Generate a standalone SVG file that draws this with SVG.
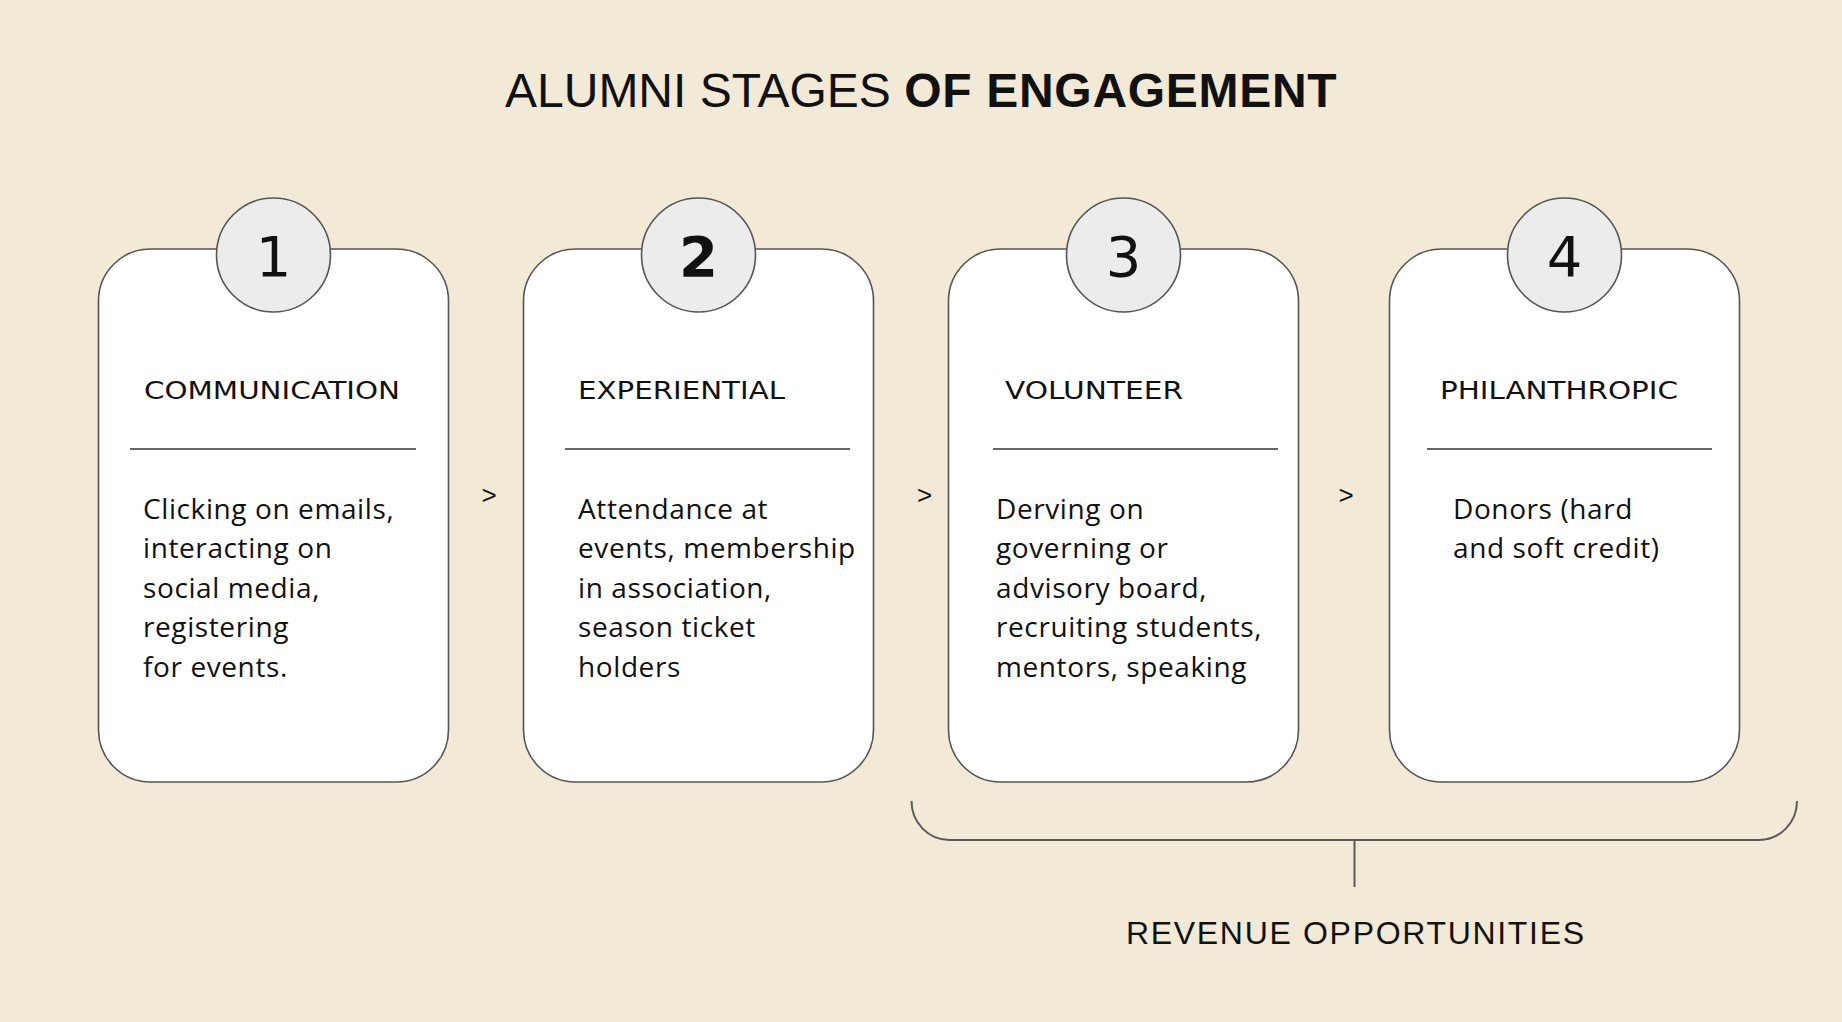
<svg xmlns="http://www.w3.org/2000/svg" width="1842" height="1022" viewBox="0 0 1842 1022">
  <style>
    .card { fill: #ffffff; stroke: #555555; stroke-width: 1.6; }
    .badge { fill: #ececec; stroke: #555555; stroke-width: 1.6; }
    .num { font-family: "DejaVu Sans", "Liberation Sans", sans-serif; font-size: 56px; fill: #111111; text-anchor: middle; }
    .head { font-family: "DejaVu Sans", "Liberation Sans", sans-serif; font-size: 25px; fill: #111111; }
    .body { font-family: "Open Sans", "Noto Sans", sans-serif; font-size: 28px; font-weight: 500; letter-spacing: 0.6px; fill: #111111; }
    .div { stroke: #666666; stroke-width: 1.8; }
    .arrow { font-family: "Liberation Sans", sans-serif; font-size: 26px; fill: #111111; text-anchor: middle; }
    .title { font-family: "Liberation Sans", sans-serif; font-size: 48px; fill: #111111; }
    .conn { fill: none; stroke: #5a5a5a; stroke-width: 2; }
  </style>
  <rect x="0" y="0" width="1842" height="1022" fill="#f2ead6"/>

  <g id="title">
    <text class="title" x="505" y="107">ALUMNI STAGES <tspan font-weight="bold" letter-spacing="0.7">OF ENGAGEMENT</tspan></text>
  </g>

  <g id="stage1">
    <rect class="card" x="98.5" y="249" width="350" height="533" rx="52" ry="52"/>
    <circle class="badge" cx="273.5" cy="255" r="57"/>
    <text class="num" x="273.5" y="276">1</text>
    <text class="head" x="144" y="399" textLength="256" lengthAdjust="spacingAndGlyphs">COMMUNICATION</text>
    <line class="div" x1="130" y1="449" x2="416" y2="449"/>
    <text class="body" x="143" y="519">Clicking on emails,</text>
    <text class="body" x="143" y="558">interacting on</text>
    <text class="body" x="143" y="598">social media,</text>
    <text class="body" x="143" y="637">registering</text>
    <text class="body" x="143" y="677">for events.</text>
  </g>

  <g id="stage2">
    <rect class="card" x="523.5" y="249" width="350" height="533" rx="52" ry="52"/>
    <circle class="badge" cx="698.5" cy="255" r="57"/>
    <text class="num" x="698.5" y="276" font-weight="bold">2</text>
    <text class="head" x="578" y="399" textLength="207" lengthAdjust="spacingAndGlyphs">EXPERIENTIAL</text>
    <line class="div" x1="565" y1="449" x2="850" y2="449"/>
    <text class="body" x="578" y="519">Attendance at</text>
    <text class="body" x="578" y="558">events, membership</text>
    <text class="body" x="578" y="598">in association,</text>
    <text class="body" x="578" y="637">season ticket</text>
    <text class="body" x="578" y="677">holders</text>
  </g>

  <g id="stage3">
    <rect class="card" x="948.5" y="249" width="350" height="533" rx="52" ry="52"/>
    <circle class="badge" cx="1123.5" cy="255" r="57"/>
    <text class="num" x="1123.5" y="276">3</text>
    <text class="head" x="1005" y="399" textLength="178" lengthAdjust="spacingAndGlyphs">VOLUNTEER</text>
    <line class="div" x1="993" y1="449" x2="1278" y2="449"/>
    <text class="body" x="996" y="519">Derving on</text>
    <text class="body" x="996" y="558">governing or</text>
    <text class="body" x="996" y="598">advisory board,</text>
    <text class="body" x="996" y="637">recruiting students,</text>
    <text class="body" x="996" y="677">mentors, speaking</text>
  </g>

  <g id="stage4">
    <rect class="card" x="1389.5" y="249" width="350" height="533" rx="52" ry="52"/>
    <circle class="badge" cx="1564.5" cy="255" r="57"/>
    <text class="num" x="1564.5" y="276">4</text>
    <text class="head" x="1440" y="399" textLength="238" lengthAdjust="spacingAndGlyphs">PHILANTHROPIC</text>
    <line class="div" x1="1427" y1="449" x2="1712" y2="449"/>
    <text class="body" x="1453" y="519">Donors (hard</text>
    <text class="body" x="1453" y="558">and soft credit)</text>
  </g>

  <g id="revenue">
    <text x="1126" y="944" font-family="Liberation Sans, sans-serif" font-size="32" fill="#111111" textLength="458" lengthAdjust="spacing">REVENUE OPPORTUNITIES</text>
  </g>

  <g id="connectors">
    <text class="arrow" x="489" y="504">&gt;</text>
    <text class="arrow" x="924.5" y="504">&gt;</text>
    <text class="arrow" x="1346" y="504">&gt;</text>
    <path class="conn" d="M 911.5 801 A 38 39 0 0 0 949.5 840 L 1759 840 A 38 39 0 0 0 1797 801"/>
    <line class="conn" x1="1354.5" y1="840" x2="1354.5" y2="887"/>
  </g>
</svg>
